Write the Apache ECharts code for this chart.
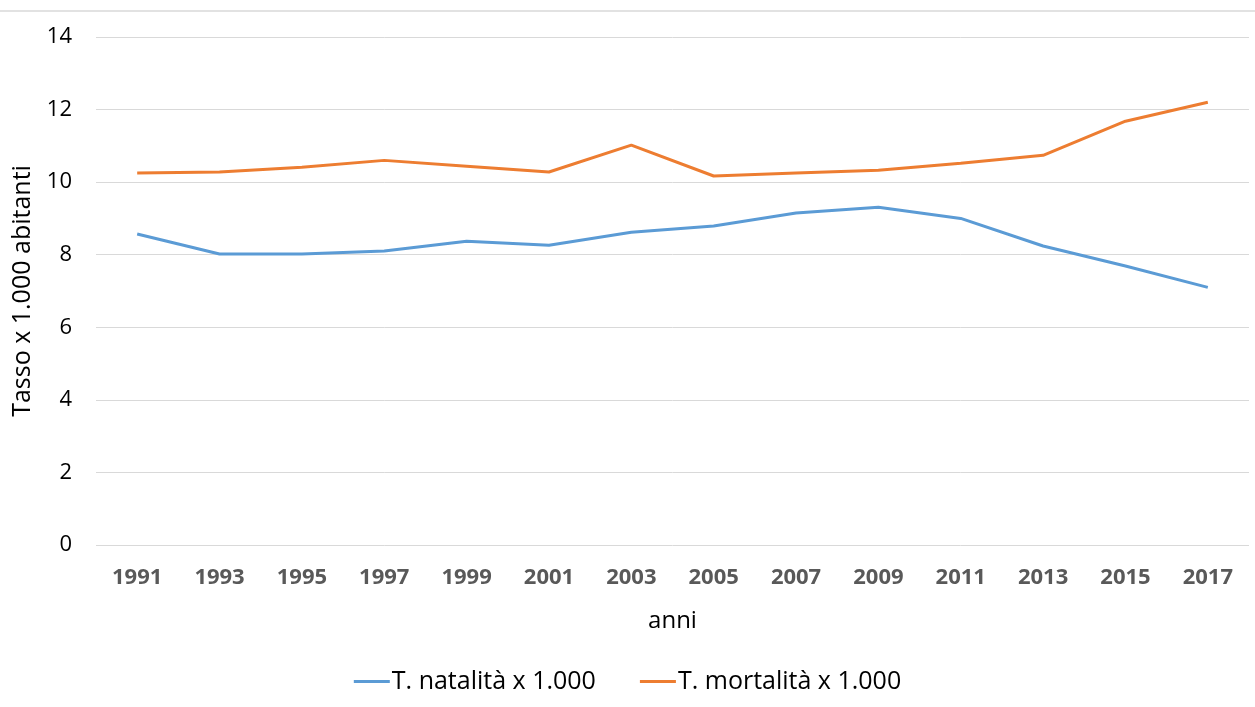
<!DOCTYPE html>
<html>
<head>
<meta charset="utf-8">
<script src="https://cdn.jsdelivr.net/npm/echarts@6/dist/echarts.min.js"></script>
<style>
  html, body { margin: 0; padding: 0; background: #fff; }
  #main { width: 1255px; height: 707px; }
</style>
</head>
<body>
<div id="main"></div>
<script>
// anni
const years = ['1991', '1993', '1995', '1997', '1999', '2001', '2003', '2005', '2007', '2009', '2011', '2013', '2015', '2017'];
// tassi x 1.000 abitanti
const natalita = [8.57, 8.02, 8.02, 8.1, 8.37, 8.26, 8.62, 8.79, 9.15, 9.31, 9.0, 8.24, 7.69, 7.1];
const mortalita = [10.25, 10.28, 10.41, 10.6, 10.44, 10.28, 11.02, 10.17, 10.25, 10.33, 10.52, 10.74, 11.68, 12.2];

const font = 'Open Sans';

let myChart = echarts.init(document.getElementById('main'));
myChart.setOption({
  animation: false,
  graphic: [
    { type: 'line', shape: { x1: 0, y1: 11, x2: 1255, y2: 11 }, style: { stroke: '#d9d9d9', lineWidth: 1.5 } }
  ],
  legend: {
    bottom: 8,
    left: 'center',
    itemWidth: 36,
    itemHeight: 3,
    itemGap: 44,
    icon: 'rect',
    textStyle: { fontFamily: font, fontSize: 25, color: '#000', padding: [0, 0, 0, -3] },
    data: ['T. natalità x 1.000', 'T. mortalità x 1.000']
  },
  grid: { left: 96, right: 6, top: 37, bottom: 162, outerBoundsMode: 'none' },
  xAxis: {
    type: 'category',
    data: years,
    name: 'anni',
    nameLocation: 'middle',
    nameGap: 64,
    nameTextStyle: { fontFamily: font, fontSize: 24, color: '#000' },
    axisLine: { show: false },
    axisTick: { show: false },
    axisLabel: { fontFamily: font, fontSize: 22, fontWeight: 'bold', color: '#595959', margin: 22 }
  },
  yAxis: {
    type: 'value',
    min: 0,
    max: 14,
    interval: 2,
    name: 'Tasso x 1.000 abitanti',
    nameLocation: 'middle',
    nameGap: 61,
    nameTextStyle: { fontFamily: font, fontSize: 25, color: '#000' },
    axisLabel: { fontFamily: font, fontSize: 22, color: '#000', margin: 24 },
    splitLine: { lineStyle: { color: '#d9d9d9', width: 1 } }
  },
  series: [
    {
      name: 'T. natalità x 1.000',
      type: 'line',
      data: natalita,
      symbol: 'none',
      itemStyle: { color: '#5b9bd5' },
      lineStyle: { color: '#5b9bd5', width: 3 }
    },
    {
      name: 'T. mortalità x 1.000',
      type: 'line',
      data: mortalita,
      symbol: 'none',
      itemStyle: { color: '#ed7d31' },
      lineStyle: { color: '#ed7d31', width: 3 }
    }
  ]
});
</script>
</body>
</html>
